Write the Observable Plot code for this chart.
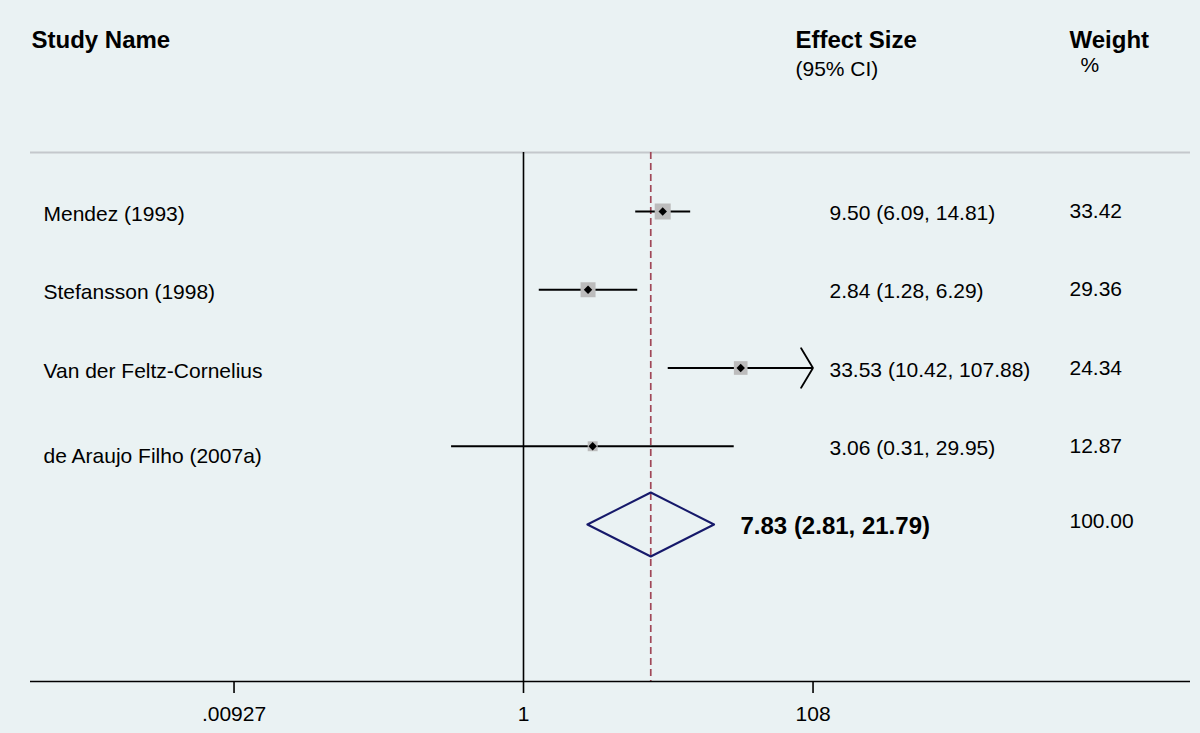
<!DOCTYPE html>
<html><head><meta charset="utf-8">
<script src="https://cdn.jsdelivr.net/npm/d3@7"></script>
<script src="https://cdn.jsdelivr.net/npm/@observablehq/plot@0.6"></script>
<style>
  html, body { margin: 0; padding: 0; background: #eaf2f3; }
  #chart svg { display: block; }
</style>
</head><body><div id="chart"></div>
<script>
// ---- data ----
const studies = ["Mendez (1993)", "Stefansson (1998)", "Van der Feltz-Cornelius", "de Araujo Filho (2007a)"];
const es      = [9.50, 2.84, 33.53, 3.06];
const lo      = [6.09, 1.28, 10.42, 0.31];
const hi      = [14.81, 6.29, 107.88, 29.95];
const weights = [33.42, 29.36, 24.34, 12.87];
const pooledES = [7.83];
const pooledLo = [2.81];
const pooledHi = [21.79];
const pooledWeight = [100.00];
const tickValues = [0.00927, 1, 108];
const tickLabels = [".00927", "1", "108"];
const headerTitles = ["Study Name", "Effect Size", "Weight"];
const headerSubs = ["(95% CI)", "%"];

// ---- layout ----
const W = 1200, H = 733;
const mL = 30, mR = 10, mT = 152, mB = 52;
const rowPx = 78.25, firstRowOffset = 59;
const frameH = H - mT - mB;
const yDomain = [-firstRowOffset / rowPx, (frameH - firstRowOffset) / rowPx];
const pxPerDecade = 142.39, onePx = 523;
const xDomain = [10 ** ((mL - onePx) / pxPerDecade), 10 ** ((W - mR - onePx) / pxPerDecade)];
const xMax = tickValues[tickValues.length - 1];
const font = "Liberation Sans, Arial, Helvetica, sans-serif";
const fmt = v => v.toFixed(2);

const rows = studies.map((s, i) => ({
  i, study: s, es: es[i], lo: lo[i], hi: Math.min(hi[i], xMax), w: weights[i],
  arrow: hi[i] >= xMax * 0.99,
  label: `${fmt(es[i])} (${fmt(lo[i])}, ${fmt(hi[i])})`
}));
const pooledRow = rows.length;
const dh = 32 / rowPx;
const diamond = [
  {x: pooledLo[0], y: pooledRow},
  {x: pooledES[0], y: pooledRow - dh},
  {x: pooledHi[0], y: pooledRow},
  {x: pooledES[0], y: pooledRow + dh},
  {x: pooledLo[0], y: pooledRow}
];
const sw = 1.8;
const wingLen = 23;
const axisLabels = tickValues.map((v, i) => ({v, label: tickLabels[i]}));

const chart = Plot.plot({
  width: W, height: H,
  marginLeft: mL, marginRight: mR, marginTop: mT, marginBottom: mB,
  style: {background: "#eaf2f3", fontFamily: font, color: "black", overflow: "visible"},
  x: {type: "log", domain: xDomain},
  y: {type: "linear", domain: yDomain, reverse: true, axis: null},
  r: {type: "identity"},
  marks: [
    Plot.ruleY([yDomain[0]], {stroke: "#c4c8cc", strokeWidth: 1.8}),
    Plot.ruleX([1], {stroke: "black", strokeWidth: 1.6}),
    Plot.ruleX(pooledES, {stroke: "#a04858", strokeWidth: 1.7, strokeDasharray: "7,4"}),
    // CI lines
    Plot.link(rows.filter(d => !d.arrow), {x1: "lo", x2: "hi", y1: "i", y2: "i", stroke: "black", strokeWidth: 2}),
    Plot.arrow(rows.filter(d => d.arrow), {x1: "lo", x2: "hi", y1: "i", y2: "i", stroke: "black", strokeWidth: sw,
      headAngle: 118, headLength: wingLen * 1.5 / sw}),
    // weight squares
    Plot.dot(rows, {x: "es", y: "i", symbol: "square", r: d => Math.sqrt(d.w) * 1.562, fill: "#bcbcbc", stroke: "none"}),
    Plot.dot(rows, {x: "es", y: "i", symbol: "diamond2", r: 3.8, fill: "black", stroke: "none"}),
    // pooled diamond
    Plot.line(diamond, {x: "x", y: "y", stroke: "#16196a", strokeWidth: 2, curve: "linear"}),
    // axis
    Plot.ruleY([yDomain[1]], {stroke: "black", strokeWidth: 1.6}),
    Plot.axisX(tickValues, {tickFormat: () => "", tickSize: 12, stroke: "black", strokeWidth: 1.6, label: null}),
    Plot.text(axisLabels, {x: "v", frameAnchor: "bottom", dy: 33, text: "label", fontSize: 21, lineAnchor: "middle", fontFamily: font}),
    // headers
    Plot.text([headerTitles[0]], {frameAnchor: "top-left", dx: 1, dy: -112, text: d => d, fontSize: 24, fontWeight: "bold", textAnchor: "start", lineAnchor: "middle", fontFamily: font}),
    Plot.text([headerTitles[1]], {frameAnchor: "top-left", dx: 765, dy: -112, text: d => d, fontSize: 24, fontWeight: "bold", textAnchor: "start", lineAnchor: "middle", fontFamily: font}),
    Plot.text([headerTitles[2]], {frameAnchor: "top-left", dx: 1039, dy: -112, text: d => d, fontSize: 24, fontWeight: "bold", textAnchor: "start", lineAnchor: "middle", fontFamily: font}),
    Plot.text([headerSubs[0]], {frameAnchor: "top-left", dx: 765, dy: -83, text: d => d, fontSize: 21, textAnchor: "start", lineAnchor: "middle", fontFamily: font}),
    Plot.text([headerSubs[1]], {frameAnchor: "top-left", dx: 1050, dy: -87, text: d => d, fontSize: 21, textAnchor: "start", lineAnchor: "middle", fontFamily: font}),
    // study names
    Plot.text(rows.filter(d => d.i < 3), {y: "i", frameAnchor: "left", dx: 13, dy: 3, text: "study", fontSize: 21, textAnchor: "start", fontFamily: font}),
    Plot.text(rows.filter(d => d.i >= 3), {y: "i", frameAnchor: "left", dx: 13, dy: 10, text: "study", fontSize: 21, textAnchor: "start", fontFamily: font}),
    // effect sizes
    Plot.text(rows, {y: "i", frameAnchor: "left", dx: 799, dy: 2, text: "label", fontSize: 21, textAnchor: "start", fontFamily: font}),
    Plot.text(pooledES, {y: () => pooledRow, frameAnchor: "left", dx: 710, dy: 2,
      text: (d, i) => `${fmt(pooledES[i])} (${fmt(pooledLo[i])}, ${fmt(pooledHi[i])})`, fontSize: 24, fontWeight: "bold", textAnchor: "start", fontFamily: font}),
    // weights
    Plot.text(rows, {y: "i", frameAnchor: "left", dx: 1039, dy: 0, text: d => fmt(d.w), fontSize: 21, textAnchor: "start", fontFamily: font}),
    Plot.text(pooledWeight, {y: () => pooledRow, frameAnchor: "left", dx: 1039, dy: -3, text: d => fmt(d), fontSize: 21, textAnchor: "start", fontFamily: font})
  ]
});
document.getElementById("chart").appendChild(chart);
</script>
</body></html>
